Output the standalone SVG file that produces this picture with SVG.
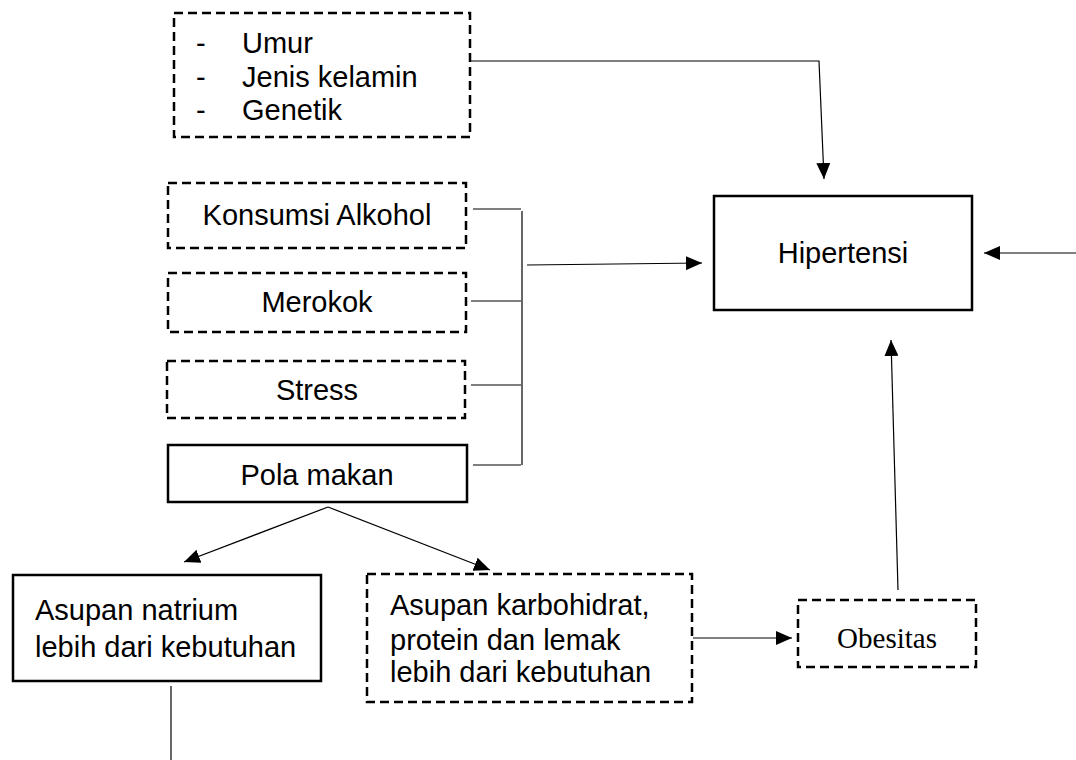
<svg xmlns="http://www.w3.org/2000/svg" width="1076" height="760" viewBox="0 0 1076 760">
<style>
.box{fill:#fff;stroke:#000;stroke-width:2.5}
.dash{fill:#fff;stroke:#000;stroke-width:2.5;stroke-dasharray:9 5}
.t{font-family:"Liberation Sans",Arial,sans-serif;font-size:29px;fill:#000}
.ts{font-family:"Liberation Serif","Times New Roman",serif;font-size:29px;fill:#000}
.c{fill:none;stroke:#000;stroke-width:1.2}
</style>
<defs>
<marker id="ah" viewBox="0 0 10 10" refX="10" refY="5" markerWidth="16" markerHeight="14" markerUnits="userSpaceOnUse" orient="auto" preserveAspectRatio="none">
<path d="M0,0 L10,5 L0,10 Z" fill="#000"/>
</marker>
</defs>
<rect width="1076" height="760" fill="#fff"/>
<g id="connectors">
<polyline class="c" points="470,61 819,61 824,179" marker-end="url(#ah)"/>
<line class="c" x1="473" y1="209" x2="521" y2="209"/>
<line class="c" x1="471" y1="301" x2="521" y2="301"/>
<line class="c" x1="471" y1="385" x2="521" y2="385"/>
<line class="c" x1="473" y1="465" x2="521" y2="465"/>
<line class="c" x1="522" y1="211" x2="522" y2="465"/>
<line class="c" x1="527" y1="265" x2="702" y2="263" marker-end="url(#ah)"/>
<line class="c" x1="1076" y1="253" x2="984" y2="253" marker-end="url(#ah)"/>
<line class="c" x1="328" y1="507" x2="184" y2="562" marker-end="url(#ah)"/>
<line class="c" x1="328" y1="507" x2="490" y2="570" marker-end="url(#ah)"/>
<line class="c" x1="171" y1="686" x2="171" y2="760"/>
<line class="c" x1="693" y1="638" x2="792" y2="638" marker-end="url(#ah)"/>
<line class="c" x1="898" y1="590" x2="891" y2="340" marker-end="url(#ah)"/>
</g>
<g id="faktor-tetap">
<rect class="dash" x="174" y="13" width="296" height="124"/>
<text class="t" x="196" y="53">-</text><text class="t" x="242" y="53">Umur</text>
<text class="t" x="196" y="87">-</text><text class="t" x="242" y="87">Jenis kelamin</text>
<text class="t" x="196" y="120">-</text><text class="t" x="242" y="120">Genetik</text>
</g>
<g id="alkohol">
<rect class="dash" x="168" y="183" width="298" height="65"/>
<text class="t" x="317" y="225" text-anchor="middle">Konsumsi Alkohol</text>
</g>
<g id="merokok">
<rect class="dash" x="168" y="273" width="298" height="59"/>
<text class="t" x="317" y="312" text-anchor="middle">Merokok</text>
</g>
<g id="stress">
<rect class="dash" x="167" y="361" width="298" height="57"/>
<text class="t" x="317" y="400" text-anchor="middle">Stress</text>
</g>
<g id="pola-makan">
<rect class="box" x="168" y="445" width="299" height="57"/>
<text class="t" x="317" y="485" text-anchor="middle">Pola makan</text>
</g>
<g id="hipertensi">
<rect class="box" x="714" y="196" width="258" height="114"/>
<text class="t" x="843" y="263" text-anchor="middle">Hipertensi</text>
</g>
<g id="natrium">
<rect class="box" x="13" y="575" width="308" height="106"/>
<text class="t" x="35" y="620">Asupan natrium</text>
<text class="t" x="35" y="657">lebih dari kebutuhan</text>
</g>
<g id="karbohidrat">
<rect class="dash" x="367" y="574" width="325" height="128"/>
<text class="t" x="390" y="615">Asupan karbohidrat,</text>
<text class="t" x="390" y="650">protein dan lemak</text>
<text class="t" x="390" y="682">lebih dari kebutuhan</text>
</g>
<g id="obesitas">
<rect class="dash" x="798" y="600" width="178" height="67"/>
<text class="ts" x="887" y="648" text-anchor="middle">Obesitas</text>
</g>
</svg>
